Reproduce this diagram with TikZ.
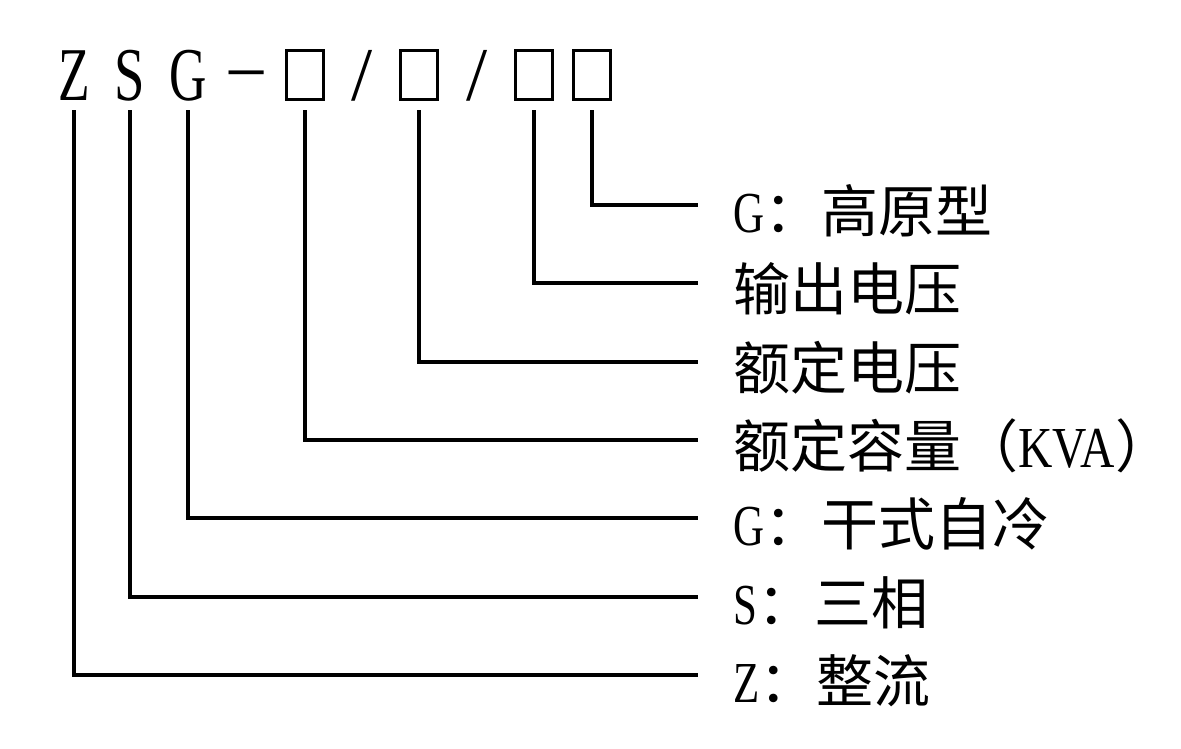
\documentclass[tikz,border=0pt]{standalone}
\usepackage{fontspec}
\usepackage{graphicx}
\setmainfont{Liberation Serif}
\newfontfamily\cjk{Noto Sans CJK SC}
\newfontfamily\lat{Liberation Serif}
\tikzset{
  head/.style={inner sep=0pt, anchor=base, font=\lat\fontsize{76}{76}\selectfont},
  slot/.style={draw, line width=3pt, minimum width=37pt, minimum height=49pt, inner sep=0pt},
  lab/.style={inner sep=0pt, anchor=base west, font=\cjk\fontsize{57}{60}\selectfont},
  conn/.style={line width=3.5pt}
}
\newcommand{\lt}[2][0.74]{{\lat\fontsize{58}{60}\selectfont\scalebox{#1}[1]{#2}}}
\begin{document}
\begin{tikzpicture}[x=1pt,y=-1pt]
\useasboundingbox (0,0) rectangle (1181,748);
% header
\node[head] (hz) at (74,100) {\scalebox{0.68}[1]{Z}};
\node[head] (hs) at (130,100) {\scalebox{0.72}[1]{S}};
\node[head] (hg) at (188,100) {\scalebox{0.68}[1]{G}};
\node[head] (dash) at (247,90) {\scalebox{0.9}[1]{–}};
\node[slot] (b1) at (305,75) {};
\node[head] (sl1) at (362,100) {/};
\node[slot] (b2) at (419,75) {};
\node[head] (sl2) at (477,100) {/};
\node[slot] (b3) at (534,75) {};
\node[slot] (b4) at (592,75) {};
% connector ends
\coordinate (e1) at (698,205);
\coordinate (e2) at (698,283);
\coordinate (e3) at (698,362);
\coordinate (e4) at (698,440);
\coordinate (e5) at (698,518);
\coordinate (e6) at (698,597);
\coordinate (e7) at (698,675);
% labels
\node[lab] (l1) at (733,232) {\lt{G}：高原型};
\node[lab] (l2) at (733,310) {输出电压};
\node[lab] (l3) at (733,389) {额定电压};
\node[lab] (l4) at (733,467) {额定容量（\lt[0.82]{KVA}）};
\node[lab] (l5) at (733,545) {\lt{G}：干式自冷};
\node[lab] (l6) at (733,624) {\lt{S}：三相};
\node[lab] (l7) at (733,702) {\lt{Z}：整流};
% connectors
\draw[conn] ([yshift=-9pt]b4.south) |- (e1);
\draw[conn] ([yshift=-9pt]b3.south) |- (e2);
\draw[conn] ([yshift=-9pt]b2.south) |- (e3);
\draw[conn] ([yshift=-9pt]b1.south) |- (e4);
\draw[conn] ([yshift=-10pt]hg.base) |- (e5);
\draw[conn] ([yshift=-10pt]hs.base) |- (e6);
\draw[conn] ([yshift=-10pt]hz.base) |- (e7);
\end{tikzpicture}
\end{document}
